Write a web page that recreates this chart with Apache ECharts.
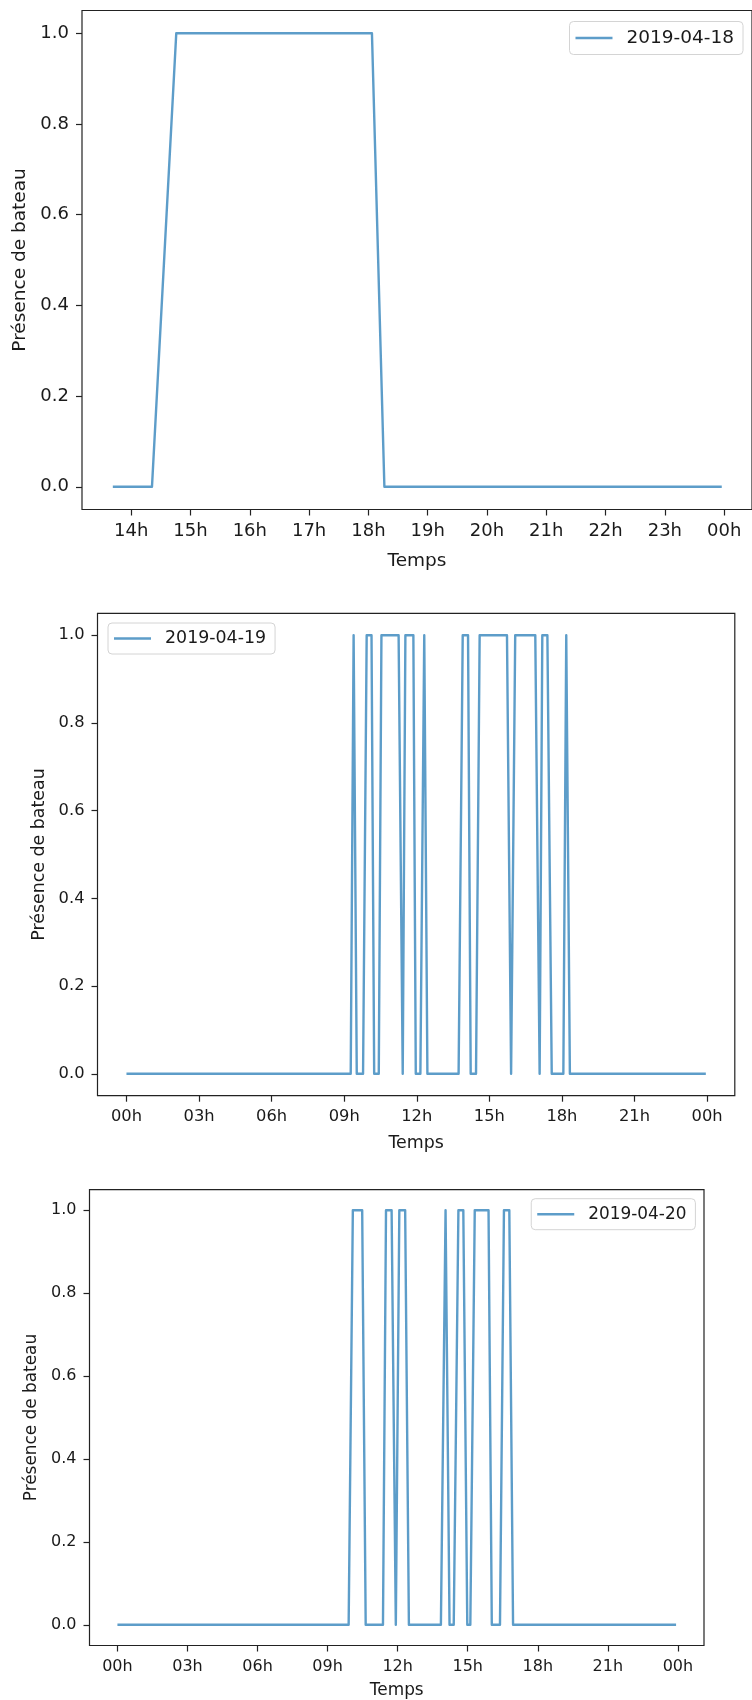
<!DOCTYPE html>
<html><head><meta charset="utf-8">
<script src="https://cdn.jsdelivr.net/npm/echarts@6/dist/echarts.min.js"></script>
<style>html,body{margin:0;padding:0;background:#fff}#c{width:752px;height:1700px}</style>
</head><body><div id="c"></div>
<script>
// ---- data (hours of day, presence 0/1) ----
const seriesNames = ['2019-04-18', '2019-04-19', '2019-04-20'];

const hours1  = [13.69, 14.35, 14.76, 18.06, 18.27, 23.96];
const values1 = [0, 0, 1, 1, 0, 0];

const hours2  = [0, 9.27, 9.39, 9.52, 9.78, 9.93, 10.13, 10.24, 10.43, 10.54, 11.25, 11.42, 11.53, 11.86, 11.96, 12.15, 12.31, 12.44, 13.73, 13.90, 14.12, 14.23, 14.45, 14.60, 15.73, 15.90, 16.07, 16.90, 17.08, 17.19, 17.40, 17.58, 18.06, 18.18, 18.33, 23.95];
const values2 = [0, 0, 1, 0, 0, 1, 1, 0, 0, 1, 1, 0, 1, 1, 0, 0, 1, 0, 0, 1, 1, 0, 0, 1, 1, 0, 1, 1, 0, 1, 1, 0, 0, 1, 0, 0];

const hours3  = [0, 9.90, 10.08, 10.48, 10.63, 11.37, 11.50, 11.74, 11.92, 12.07, 12.32, 12.48, 13.85, 14.05, 14.22, 14.40, 14.60, 14.81, 14.98, 15.11, 15.30, 15.89, 16.03, 16.38, 16.55, 16.78, 16.94, 23.92];
const values3 = [0, 0, 1, 1, 0, 0, 1, 1, 0, 1, 1, 0, 0, 1, 0, 0, 1, 1, 0, 0, 1, 1, 0, 0, 1, 1, 0, 0];

const yTicks  = [0, 0.2, 0.4, 0.6, 0.8, 1.0];
const xTicks1 = [14, 15, 16, 17, 18, 19, 20, 21, 22, 23, 24];
const xTicks2 = [0, 3, 6, 9, 12, 15, 18, 21, 24];
const xTicks3 = [0, 3, 6, 9, 12, 15, 18, 21, 24];

const xTitle = 'Temps';
const yTitle = 'Présence de bateau';

// ---- layout ----
const FONT = '"DejaVu Sans", sans-serif';
const TXT = '#1a1a1a';
const LINE = 'rgba(31,119,180,0.72)';
const panels = [
  {hours: hours1, values: values1, ticks: xTicks1, xmin: 13.17, xmax: 24.47,
   grid: {left: 82, top: 10.5, width: 671, height: 499}, fs: 18, tfs: 18.5, yGap: 49, xGap: 42,
   legend: {right: 9, top: 21.5}},
  {hours: hours2, values: values2, ticks: xTicks2, xmin: -1.1975, xmax: 25.1475,
   grid: {left: 97.5, top: 613.3, width: 637.3, height: 482.4}, fs: 16.3, tfs: 17.4, yGap: 48.5, xGap: 39.5,
   legend: {left: 108, top: 623}},
  {hours: hours3, values: values3, ticks: xTicks3, xmin: -1.196, xmax: 25.116,
   grid: {left: 89.5, top: 1189.6, width: 614.5, height: 456.4}, fs: 16, tfs: 16.9, yGap: 46.5, xGap: 36.5,
   legend: {right: 56.6, top: 1198.7}}
];

const fmtHour = v => String(Math.round(v) % 24).padStart(2, '0') + 'h';

const option = {
  animation: false,
  backgroundColor: '#fff',
  textStyle: {fontFamily: FONT},
  grid: panels.map(p => Object.assign({show: true, borderColor: '#222', borderWidth: 1.2, backgroundColor: 'transparent'}, p.grid)),
  xAxis: panels.map((p, i) => ({
    type: 'value', gridIndex: i, min: p.xmin, max: p.xmax, position: 'bottom',
    name: xTitle, nameLocation: 'middle', nameGap: p.xGap,
    nameTextStyle: {fontSize: p.tfs, color: TXT, fontFamily: FONT},
    axisLine: {show: false, onZero: false},
    splitLine: {show: false},
    axisTick: {show: true, length: 6, inside: false, customValues: p.ticks, lineStyle: {color: '#222', width: 1.2}},
    axisLabel: {customValues: p.ticks, formatter: fmtHour, fontSize: p.fs, color: TXT, margin: 13, fontFamily: FONT}
  })),
  yAxis: panels.map((p, i) => ({
    type: 'value', gridIndex: i, min: -0.05, max: 1.05, position: 'left',
    name: yTitle, nameLocation: 'middle', nameGap: p.yGap,
    nameTextStyle: {fontSize: p.tfs, color: TXT, fontFamily: FONT},
    axisLine: {show: false, onZero: false},
    splitLine: {show: false},
    axisTick: {show: true, length: 6, inside: false, customValues: yTicks, lineStyle: {color: '#222', width: 1.2}},
    axisLabel: {customValues: yTicks, formatter: v => v.toFixed(1), fontSize: p.fs, color: TXT, margin: 13, fontFamily: FONT}
  })),
  legend: panels.map((p, i) => Object.assign({
    data: [seriesNames[i]], orient: 'vertical', icon: 'rect',
    itemWidth: 37, itemHeight: 2.5,
    padding: [7, 9, 7, 6],
    backgroundColor: 'rgba(255,255,255,0.85)', borderColor: '#d4d4d4', borderWidth: 1, borderRadius: 4,
    textStyle: {fontSize: p.tfs, color: TXT, fontFamily: FONT, padding: [0, 0, 0, 9]}
  }, p.legend)),
  series: panels.map((p, i) => ({
    name: seriesNames[i], type: 'line', xAxisIndex: i, yAxisIndex: i,
    data: p.hours.map((h, k) => [h, p.values[k]]),
    showSymbol: false, symbol: 'none',
    color: LINE,
    lineStyle: {width: 2.4, color: LINE, join: 'round'},
    itemStyle: {color: LINE}
  }))
};

const chart = echarts.init(document.getElementById('c'), null, {renderer: 'canvas'});
chart.setOption(option);
</script>
</body></html>
